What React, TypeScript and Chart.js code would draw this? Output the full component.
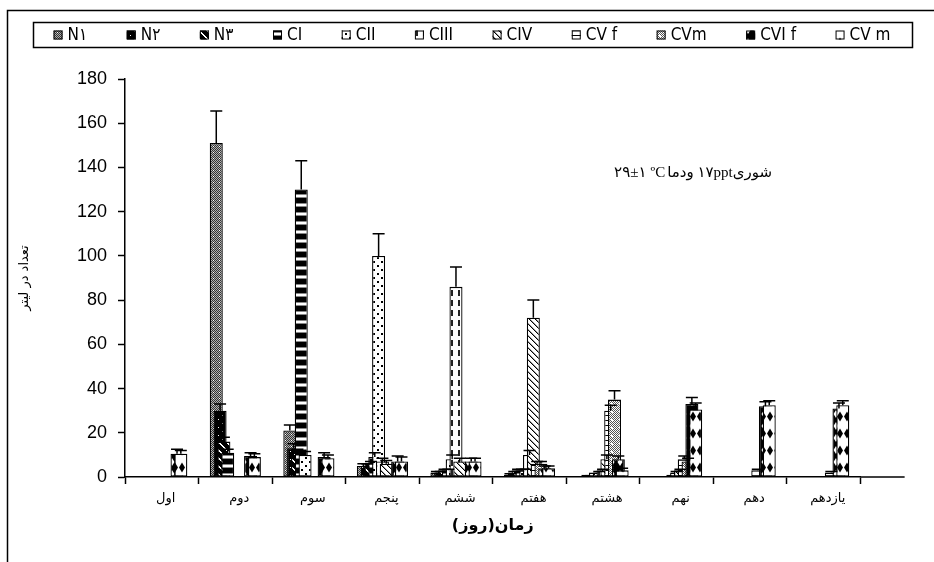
import React, { useEffect, useRef } from 'react';
import { Chart, registerables } from 'chart.js';

Chart.register(...registerables);

// ---------------- data ----------------
const days = ['اول', 'دوم', 'سوم', 'پنجم', 'ششم', 'هفتم', 'هشتم', 'نهم', 'دهم', 'یازدهم'];
const seriesNames = ['N۱', 'N۲', 'N۳', 'CI', 'CII', 'CIII', 'CIV', 'CV f', 'CVm', 'CVI f', 'CV m'];

const n1 = [0, 151, 21, 5, 2, 1, 0.5, 0, 0, 0];
const n2 = [0, 30, 13, 5, 2, 2, 1, 0, 0, 0];
const n3 = [0, 16, 11, 6, 3, 3, 1, 0, 0, 0];
const c1 = [0, 11, 130, 9, 3, 3, 2, 0, 0, 0];
const c2 = [0, 0, 10, 100, 8, 3, 2, 1, 0, 0];
const c3 = [0, 0, 0, 7, 86, 10, 3, 2, 0, 0];
const c4 = [0, 0, 0, 6, 7, 72, 8, 3, 0, 0];
const c5f = [0, 0, 0, 0, 0, 6, 30, 8, 3, 2];
const c5m = [0, 0, 0, 0, 0, 6, 35, 7, 0, 0];
const c6f = [10.5, 9.5, 9, 7, 7, 4, 8, 33, 32, 31];
const c6m = [10.5, 9, 8.5, 7, 7, 4, 3, 30.5, 32.5, 32.5];

const n1Err = [0, 14.5, 2.5, 1, 0.5, 0.5, 0, 0, 0, 0];
const n2Err = [0, 3, 2, 1, 0.5, 0.5, 0, 0, 0, 0];
const n3Err = [0, 2, 1.5, 1, 0.5, 0.5, 0, 0, 0, 0];
const c1Err = [0, 1.5, 13, 2, 0.5, 0.5, 0, 0, 0, 0];
const c2Err = [0, 0, 1.5, 10, 2, 0.5, 0.5, 0, 0, 0];
const c3Err = [0, 0, 0, 1.5, 9, 2, 0.5, 0.5, 0, 0];
const c4Err = [0, 0, 0, 1.5, 1.5, 8, 2, 0.5, 0, 0];
const c5fErr = [0, 0, 0, 0, 0, 1, 2.5, 1.5, 0.5, 0.5];
const c5mErr = [0, 0, 0, 0, 0, 1, 4, 1.5, 0, 0];
const c6fErr = [2, 1.5, 2, 2.5, 1.5, 1, 1.5, 3, 2, 2.5];
const c6mErr = [1.5, 1.5, 1.5, 2, 1.5, 1, 1, 3, 2, 2];

const seriesValues = [n1, n2, n3, c1, c2, c3, c4, c5f, c5m, c6f, c6m];
const seriesErrors = [n1Err, n2Err, n3Err, c1Err, c2Err, c3Err, c4Err, c5fErr, c5mErr, c6fErr, c6mErr];

const yMin = 0;
const yMax = 180;
const yStep = 20;
const xTitle = 'زمان(روز)';
const yTitle = 'تعداد در لیتر';
// annotation pieces, right to left as they appear
const noteRight = 'شوری۱۷ppt ودما';
const noteUnit = 'ºC';
const noteTemp = '۲۹±۱';

// ---------------- patterns ----------------
type G = CanvasRenderingContext2D;
function tile(w: number, h: number, draw: (g: G) => void): CanvasPattern {
  const c = document.createElement('canvas');
  c.width = w;
  c.height = h;
  const g = c.getContext('2d') as G;
  draw(g);
  return g.createPattern(c, 'repeat') as CanvasPattern;
}
function px(g: G, x: number, y: number, col: string, w = 1, h = 1) {
  g.fillStyle = col;
  g.fillRect(x, y, w, h);
}
function diamond(g: G, cx: number, cy: number, rx: number, ry: number, col: string) {
  g.fillStyle = col;
  g.beginPath();
  g.moveTo(cx, cy - ry);
  g.lineTo(cx + rx, cy);
  g.lineTo(cx, cy + ry);
  g.lineTo(cx - rx, cy);
  g.closePath();
  g.fill();
}

function makePatterns(): CanvasPattern[] {
  return [
    // N1 gray stipple with white specks
    tile(6, 6, (g) => {
      for (let y = 0; y < 6; y++) for (let x = 0; x < 6; x++) px(g, x, y, (x + y) % 2 === 0 ? '#333' : '#b0b0b0');
      px(g, 3, 2, '#fff');
    }),
    // N2 near-black with sparse dots
    tile(8, 8, (g) => {
      px(g, 0, 0, '#000', 8, 8);
      px(g, 2, 3, '#fff');
      px(g, 6, 7, '#777');
    }),
    // N3 diagonal
    tile(8, 8, (g) => {
      px(g, 0, 0, '#000', 8, 8);
      for (let i = 0; i < 8; i++) {
        px(g, i, i, '#fff');
        px(g, (i + 1) % 8, i, '#fff');
      }
    }),
    // CI horizontal stripes
    tile(4, 9, (g) => {
      px(g, 0, 0, '#000', 4, 5);
      px(g, 0, 5, '#888', 4, 1);
      px(g, 0, 6, '#fff', 4, 2);
      px(g, 0, 8, '#888', 4, 1);
    }),
    // CII dots
    tile(8, 8, (g) => {
      px(g, 0, 0, '#fff', 8, 8);
      px(g, 1, 1, '#000', 2, 2);
      px(g, 5, 5, '#000', 2, 2);
    }),
    // CIII vertical dashes
    tile(7, 10, (g) => {
      px(g, 0, 0, '#fff', 7, 10);
      px(g, 3, 0, '#222', 2, 6);
    }),
    // CIV diagonal strokes
    tile(6, 6, (g) => {
      px(g, 0, 0, '#fff', 6, 6);
      for (let i = 0; i < 6; i++) {
        px(g, i, i, '#000');
        px(g, (i + 1) % 6, i, '#999');
      }
    }),
    // CV f horizontal lines
    tile(4, 5, (g) => {
      px(g, 0, 0, '#fff', 4, 5);
      px(g, 0, 0, '#000', 4, 1);
    }),
    // CVm light stipple
    tile(8, 8, (g) => {
      for (let y = 0; y < 8; y++) for (let x = 0; x < 8; x++) px(g, x, y, (x + y) % 2 === 0 ? '#555' : '#fff');
      px(g, 3, 3, '#fff', 2, 2);
    }),
    // CVI f black with white diamonds
    tile(8, 12, (g) => {
      px(g, 0, 0, '#000', 8, 12);
      diamond(g, 4, 6, 2.5, 4, '#fff');
    }),
    // CV m white with black diamonds
    tile(7, 17, (g) => {
      px(g, 0, 0, '#fff', 7, 17);
      diamond(g, 0, 8.5, 3, 5, '#000');
      diamond(g, 7, 8.5, 3, 5, '#000');
    }),
  ];
}

// ---------------- plugins ----------------
const legendFont = '17px "Liberation Sans Narrow", "DejaVu Sans Condensed", "Liberation Sans", "DejaVu Sans", sans-serif';

const framePlugin = {
  id: 'frame',
  beforeDraw(chart: any) {
    const { ctx } = chart;
    ctx.save();
    ctx.fillStyle = '#fff';
    ctx.fillRect(0, 0, chart.width, chart.height);
    ctx.strokeStyle = '#000';
    ctx.lineWidth = 1.5;
    ctx.strokeRect(7.5, 10.5, chart.width + 20, chart.height + 20);
    ctx.restore();
  },
};

const barsAndErrors = {
  id: 'barsAndErrors',
  beforeDatasetsDraw(chart: any) {
    const metas = chart.getSortedVisibleDatasetMetas();
    const ctx = chart.ctx;
    for (const meta of metas) meta.controller.draw();
    const yScale = chart.scales.y;
    ctx.save();
    ctx.strokeStyle = '#000';
    ctx.lineWidth = 1.5;
    metas.forEach((meta: any) => {
      const ds = chart.data.datasets[meta.index];
      meta.data.forEach((bar: any, j: number) => {
        const e = ds.errorBars[j];
        const v = ds.data[j];
        if (!e) return;
        const yTop = yScale.getPixelForValue(v + e);
        ctx.beginPath();
        ctx.moveTo(bar.x, bar.y);
        ctx.lineTo(bar.x, yTop);
        ctx.moveTo(bar.x - 6, yTop);
        ctx.lineTo(bar.x + 6, yTop);
        ctx.stroke();
      });
    });
    ctx.restore();
    return false;
  },
};

const extrasPlugin = {
  id: 'extras',
  afterDraw(chart: any) {
    const { ctx, chartArea } = chart;
    const xs = chart.scales.x;
    ctx.save();
    // x axis line extension beyond last category
    const cat = (xs.right - xs.left) / days.length;
    ctx.strokeStyle = '#000';
    ctx.lineWidth = 1.5;
    ctx.beginPath();
    ctx.moveTo(chartArea.right, chartArea.bottom);
    ctx.lineTo(chartArea.right + cat * 0.6, chartArea.bottom);
    ctx.stroke();

    // legend
    ctx.lineWidth = 1.5;
    ctx.strokeRect(33.5, 22.5, 879, 25);
    ctx.font = legendFont;
    const dsets = chart.data.datasets;
    const widths = dsets.map((d: any) => ctx.measureText(d.label).width);
    const box = 9;
    const gap = 5;
    const spacing = 39.5;
    const total = widths.reduce((a: number, w: number) => a + box + gap + w, 0) + spacing * (widths.length - 1);
    let x = 472 - total / 2;
    const yc = 35;
    ctx.textBaseline = 'middle';
    ctx.textAlign = 'left';
    dsets.forEach((d: any, i: number) => {
      ctx.fillStyle = d.backgroundColor;
      ctx.fillRect(x, yc - 4.5, box, box);
      ctx.lineWidth = 1;
      ctx.strokeStyle = '#000';
      ctx.strokeRect(x + 0.5, yc - 4, box - 1, box - 1);
      ctx.fillStyle = '#000';
      ctx.fillText(d.label, x + box + gap, yc + 1);
      x += box + gap + widths[i] + spacing;
    });

    // annotation (drawn in pieces, right to left)
    ctx.font = '15px "Liberation Serif", "DejaVu Sans", serif';
    ctx.fillStyle = '#000';
    ctx.textBaseline = 'middle';
    const right = 772;
    (ctx as any).direction = 'rtl';
    ctx.textAlign = 'right';
    const wR = ctx.measureText(noteRight).width;
    ctx.fillText(noteRight, right, 173);
    (ctx as any).direction = 'ltr';
    ctx.textAlign = 'right';
    let xr = right - wR - 2;
    ctx.fillText(noteUnit, xr, 173);
    xr -= ctx.measureText(noteUnit).width + 4;
    ctx.fillText(noteTemp, xr, 173);
    ctx.restore();
  },
};

// ---------------- component ----------------
export default function App() {
  const ref = useRef<HTMLCanvasElement>(null);

  useEffect(() => {
    const canvas = ref.current as HTMLCanvasElement;
    const patterns = makePatterns();
    const datasets = seriesNames.map((name, i) => ({
      label: name,
      data: seriesValues[i],
      errorBars: seriesErrors[i],
      backgroundColor: patterns[i],
      borderColor: '#000',
      borderWidth: 1.3,
      borderSkipped: false,
      categoryPercentage: 0.57,
      barPercentage: 3.42,
    }));

    const chart = new Chart(canvas, {
      type: 'bar',
      data: { labels: days, datasets: datasets as any },
      options: {
        animation: false,
        responsive: false,
        devicePixelRatio: 1,
        layout: { padding: { top: 79, right: 73.5, bottom: 0, left: 0 } },
        plugins: {
          legend: { display: false },
          tooltip: { enabled: false },
        },
        scales: {
          x: {
            type: 'category',
            offset: true,
            grid: {
              display: true,
              offset: true,
              drawOnChartArea: false,
              drawTicks: true,
              tickLength: 7,
              tickColor: '#000',
              tickWidth: 1.5,
            },
            border: { display: true, color: '#000', width: 1.5 },
            ticks: {
              color: '#000',
              font: { family: '"DejaVu Sans", sans-serif', size: 13 },
              padding: 7,
              labelOffset: 4,
              maxRotation: 0,
              autoSkip: false,
            },
            title: {
              display: true,
              text: '\u200F' + xTitle + '\u200F',
              color: '#000',
              font: { family: '"DejaVu Sans", sans-serif', size: 16, weight: 'bold' },
              padding: { top: 0, bottom: 27 },
            },
            afterFit: (s: any) => {
              s.height = 85;
            },
          },
          y: {
            min: yMin,
            max: yMax,
            ticks: {
              stepSize: yStep,
              color: '#000',
              font: { family: '"Liberation Sans", Arial, sans-serif', size: 18 },
              padding: 11,
            },
            grid: {
              drawOnChartArea: false,
              drawTicks: true,
              tickLength: 7,
              tickColor: '#000',
              tickWidth: 1.5,
            },
            border: { display: true, color: '#000', width: 1.5 },
            title: {
              display: true,
              text: yTitle,
              color: '#000',
              font: { family: '"DejaVu Sans", sans-serif', size: 13 },
              padding: { top: 17, bottom: 0 },
            },
            afterFit: (s: any) => {
              s.width = 125;
            },
          },
        },
      },
      plugins: [framePlugin, barsAndErrors, extrasPlugin],
    } as any);

    return () => chart.destroy();
  }, []);

  return (
    <div style={{ position: 'fixed', left: 0, top: 0, width: 934, height: 562, background: '#fff' }}>
      <canvas ref={ref} width={934} height={562} style={{ display: 'block', width: 934, height: 562 }} />
    </div>
  );
}
